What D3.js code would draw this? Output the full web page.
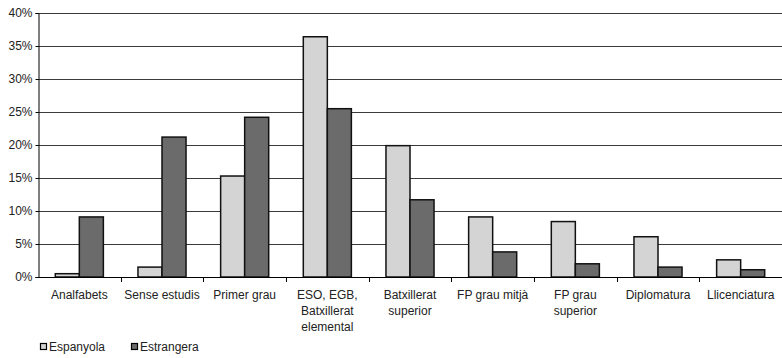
<!DOCTYPE html>
<html><head><meta charset="utf-8">
<script src="https://cdn.jsdelivr.net/npm/d3@7"></script>
<style>
html,body{margin:0;padding:0;background:#fff;}
svg{display:block;font-family:"Liberation Sans",Arial,sans-serif;}
</style></head>
<body><svg id="chart" width="782" height="358"></svg>
<script>
const categories = ["Analfabets","Sense estudis","Primer grau","ESO, EGB, Batxillerat elemental","Batxillerat superior","FP grau mitjà","FP grau superior","Diplomatura","Llicenciatura"];
const seriesNames = ["Espanyola","Estrangera"];
const espanyola = [0.5, 1.5, 15.3, 36.4, 19.9, 9.1, 8.4, 6.1, 2.6];
const estrangera = [9.1, 21.2, 24.2, 25.5, 11.7, 3.8, 2.0, 1.5, 1.1];
const yTicks = [0,5,10,15,20,25,30,35,40];
const colors = ["#d4d4d4","#6b6b6b"];

(function(){
const svg = d3.select("#chart");
const mLeft = 38, mRight = 782, mTop = 13, mBottom = 277;
const x = d3.scaleBand().domain(categories).range([mLeft, mRight]);
const y = d3.scaleLinear().domain([0,40]).range([mBottom, mTop]);
const xs = d3.scaleBand().domain(seriesNames).range([0, x.bandwidth()]).paddingInner(0).paddingOuter(0.72);

// gridlines
svg.append("g").selectAll("line").data(yTicks.slice(1)).join("line")
  .attr("x1", mLeft).attr("x2", mRight)
  .attr("y1", d => Math.round(y(d)) + 0.5).attr("y2", d => Math.round(y(d)) + 0.5)
  .attr("stroke", "#3a3a3a").attr("stroke-width", 1);

// bars
const data = [espanyola, estrangera];
const g = svg.append("g");
seriesNames.forEach((s, si) => {
  g.selectAll(null).data(categories).join("rect")
    .attr("x", c => x(c) + xs(s))
    .attr("y", (c, i) => y(data[si][i]))
    .attr("width", xs.bandwidth())
    .attr("height", (c, i) => y(0) - y(data[si][i]))
    .attr("fill", colors[si])
    .attr("stroke", "#111").attr("stroke-width", 1.5);
});

// y axis
const yAxis = d3.axisLeft(y).tickValues(yTicks).tickFormat(d => d + "%").tickSize(3).tickPadding(3);
const ya = svg.append("g").attr("transform", `translate(${mLeft + 0.5},0)`).call(yAxis);
ya.select(".domain").attr("stroke", "#000");
ya.selectAll(".tick line").attr("stroke", "#000");
ya.selectAll("text").attr("font-size", 12).attr("fill", "#222").attr("font-family", "Liberation Sans, Arial, sans-serif");

// x axis line
svg.append("line").attr("x1", mLeft).attr("x2", mRight).attr("y1", mBottom + 0.5).attr("y2", mBottom + 0.5).attr("stroke", "#000");
// x ticks at category boundaries
svg.append("g").selectAll("line").data(categories.slice(1)).join("line")
  .attr("x1", c => Math.round(x(c)) + 0.5).attr("x2", c => Math.round(x(c)) + 0.5)
  .attr("y1", mBottom).attr("y2", mBottom + 5).attr("stroke", "#000");

// x labels with wrapping
const maxW = x.bandwidth() - 2;
const labels = svg.append("g").attr("font-size", 12).attr("fill", "#222").attr("text-anchor", "middle");
categories.forEach(c => {
  const cx = x(c) + x.bandwidth()/2;
  const t = labels.append("text").attr("x", cx).attr("y", 299);
  const words = c.split(" ");
  let line = [];
  let ts = t.append("tspan").attr("x", cx).attr("dy", 0);
  words.forEach(w => {
    line.push(w);
    ts.text(line.join(" "));
    if (ts.node().getComputedTextLength() > maxW && line.length > 1) {
      line.pop(); ts.text(line.join(" "));
      line = [w];
      ts = t.append("tspan").attr("x", cx).attr("dy", 16).text(w);
    }
  });
});

// legend
const legendX = [40, 131];
const lg = svg.append("g");
seriesNames.forEach((s, i) => {
  lg.append("rect").attr("x", legendX[i] + 0.5).attr("y", 343.5).attr("width", 6).attr("height", 6)
    .attr("fill", colors[i]).attr("stroke", "#000").attr("stroke-width", 1.2);
  lg.append("text").attr("x", legendX[i] + 9).attr("y", 351).attr("font-size", 12).attr("fill", "#222").text(s);
});
})();
</script></body></html>
